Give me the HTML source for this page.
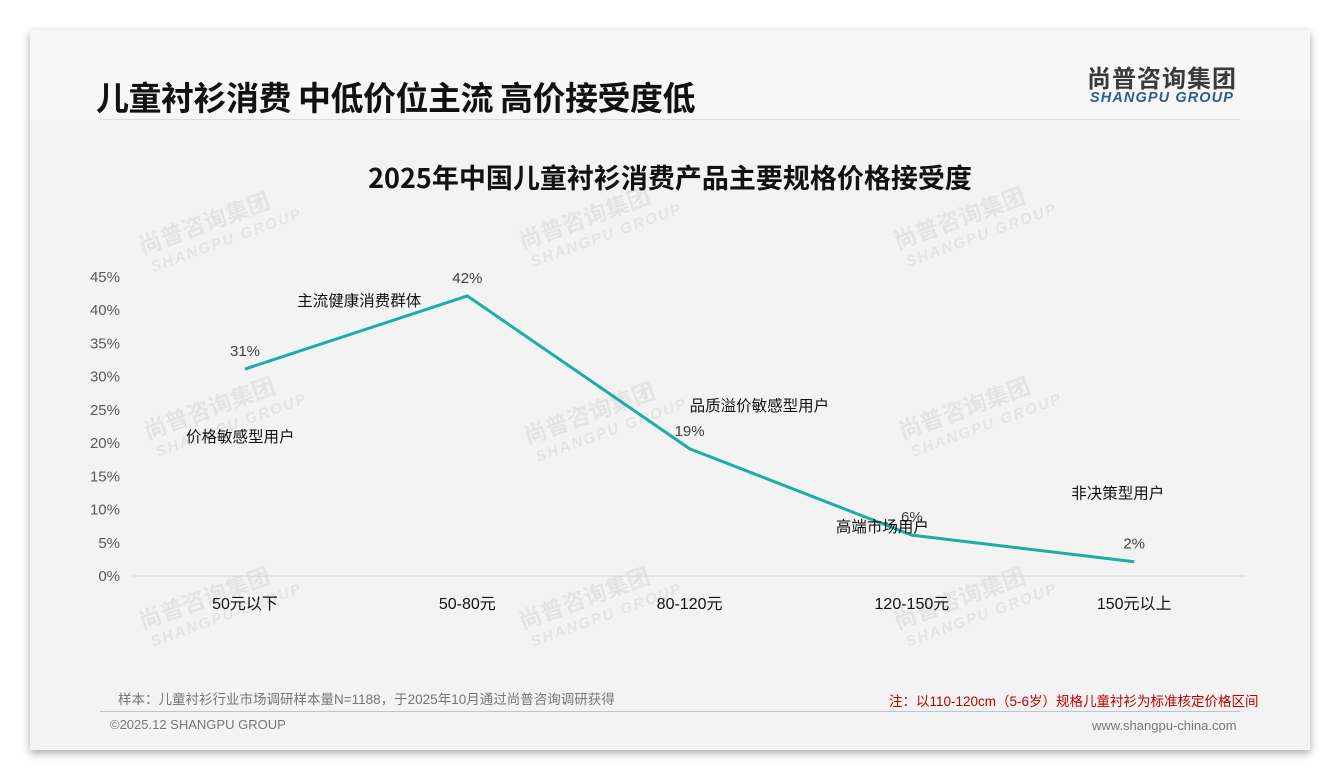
<!DOCTYPE html>
<html><head><meta charset="utf-8">
<style>
body{margin:0;width:1340px;height:780px;background:#fff;position:relative;overflow:hidden;font-family:"Liberation Sans","Noto Sans CJK SC",sans-serif;}
#card{position:absolute;left:30px;top:30px;width:1280px;height:720px;background:#f3f3f3;box-shadow:0 3px 8px rgba(0,0,0,0.35);}
.abs{position:absolute;white-space:nowrap;}
</style></head><body>
<div id="card">
<div class="abs" style="left:0;top:0;width:1280px;height:90px;background:#f7f7f7"></div>
<div class="abs" style="left:66px;top:42px;font-size:33px;font-weight:bold;color:#111;font-family:'Noto Sans CJK SC',sans-serif;letter-spacing:-0.5px">儿童衬衫消费 中低价位主流 高价接受度低</div>
<div class="abs" style="left:1057px;top:29px;font-size:24px;font-weight:bold;color:#3a3a3a;font-family:'Noto Sans CJK SC',sans-serif;letter-spacing:1px">尚普咨询集团</div>
<div class="abs" style="left:1060px;top:60px;font-size:14.5px;font-weight:bold;font-style:italic;color:#2f5f85;letter-spacing:1.1px">SHANGPU GROUP</div>
<div class="abs" style="left:70px;top:89px;width:1140px;height:1px;background:#dcdcdc"></div>
<div class="abs" style="left:70px;top:681px;width:1140px;height:1px;background:#b9c6d2"></div>
<div class="abs" style="left:88px;top:658px;font-size:13.5px;color:#777">样本：儿童衬衫行业市场调研样本量N=1188，于2025年10月通过尚普咨询调研获得</div>
<div class="abs" style="left:859px;top:660px;font-size:13.5px;color:#c00000">注：以110-120cm（5-6岁）规格儿童衬衫为标准核定价格区间</div>
<div class="abs" style="left:80px;top:687px;font-size:13px;color:#777">©2025.12 SHANGPU GROUP</div>
<div class="abs" style="left:1062px;top:688px;font-size:13px;color:#777">www.shangpu-china.com</div>
</div>
<svg id="chart" width="1340" height="780" style="position:absolute;left:0;top:0"></svg>
<script>
const categories=["50元以下","50-80元","80-120元","120-150元","150元以上"];
const values=[31,42,19,6,2];
const notes=["价格敏感型用户","主流健康消费群体","品质溢价敏感型用户","高端市场用户","非决策型用户"];
const yTicks=[0,5,10,15,20,25,30,35,40,45];
const svg=document.getElementById('chart');const NS='http://www.w3.org/2000/svg';
function x(i){return 245+i*222.3;}
function y(v){return 575-v*(299/45);}
function mk(t,a,txt){const e=document.createElementNS(NS,t);for(const k in a)e.setAttribute(k,a[k]);if(txt!==undefined)e.textContent=txt;svg.appendChild(e);return e;}
const F='Liberation Sans, Noto Sans CJK SC, sans-serif';
const wm=[[210,230],[590,225],[965,225],[215,415],[595,420],[970,415],[210,605],[590,605],[965,605]];
wm.forEach((p,i)=>{
 const g=mk('g',{transform:`translate(${p[0]},${p[1]}) rotate(-20)`,opacity:0.7});
 
 
 const a=document.createElementNS(NS,'text');a.setAttribute('x',-72);a.setAttribute('y',0);a.setAttribute('font-size',23);a.setAttribute('font-weight','bold');a.setAttribute('fill','#dedede');a.setAttribute('font-family','Noto Sans CJK SC, sans-serif');a.textContent='尚普咨询集团';g.appendChild(a);
 const b=document.createElementNS(NS,'text');b.setAttribute('x',-68);b.setAttribute('y',20);b.setAttribute('font-size',15);b.setAttribute('font-weight','bold');b.setAttribute('font-style','italic');b.setAttribute('fill','#dedede');b.setAttribute('font-family',F);b.setAttribute('letter-spacing','2');b.textContent='SHANGPU GROUP';g.appendChild(b);
 svg.appendChild(g);
});
let e=mk('text',{x:670,y:188,'text-anchor':'middle','font-size':27,'font-weight':'bold',fill:'#111','font-family':'Noto Sans CJK SC, sans-serif'},'2025年中国儿童衬衫消费产品主要规格价格接受度');


yTicks.forEach(t=>{const l=mk('text',{x:120,y:y(t)+6,'text-anchor':'end','font-size':15,fill:'#595959','font-family':F},t+'%');
 
 });
e=mk('line',{x1:133,x2:1245,y1:y(0)+1,y2:y(0)+1,stroke:'#d9d9d9','stroke-width':1});


categories.forEach((c,i)=>{const l=mk('text',{x:x(i),y:609,'text-anchor':'middle','font-size':16,fill:'#111','font-family':F},c);
 
 });
e=mk('polyline',{points:values.map((v,i)=>x(i)+','+y(v)).join(' '),fill:'none',stroke:'#1cada6','stroke-width':3,'stroke-linejoin':'miter'});


values.forEach((v,i)=>{const l=mk('text',{x:x(i),y:y(v)-13,'text-anchor':'middle','font-size':15,fill:'#404040','font-family':F},v+'%');
 
 });
const noteDx=[-59,-170,0,-76,-63];
const noteDy=[73,10,-38,-3,-63];
notes.forEach((n,i)=>{const l=mk('text',{x:x(i)+noteDx[i],y:y(values[i])+noteDy[i],'font-size':15.5,fill:'#111','font-family':'Noto Sans CJK SC, sans-serif'},n);
 
 });
</script>
</body></html>
